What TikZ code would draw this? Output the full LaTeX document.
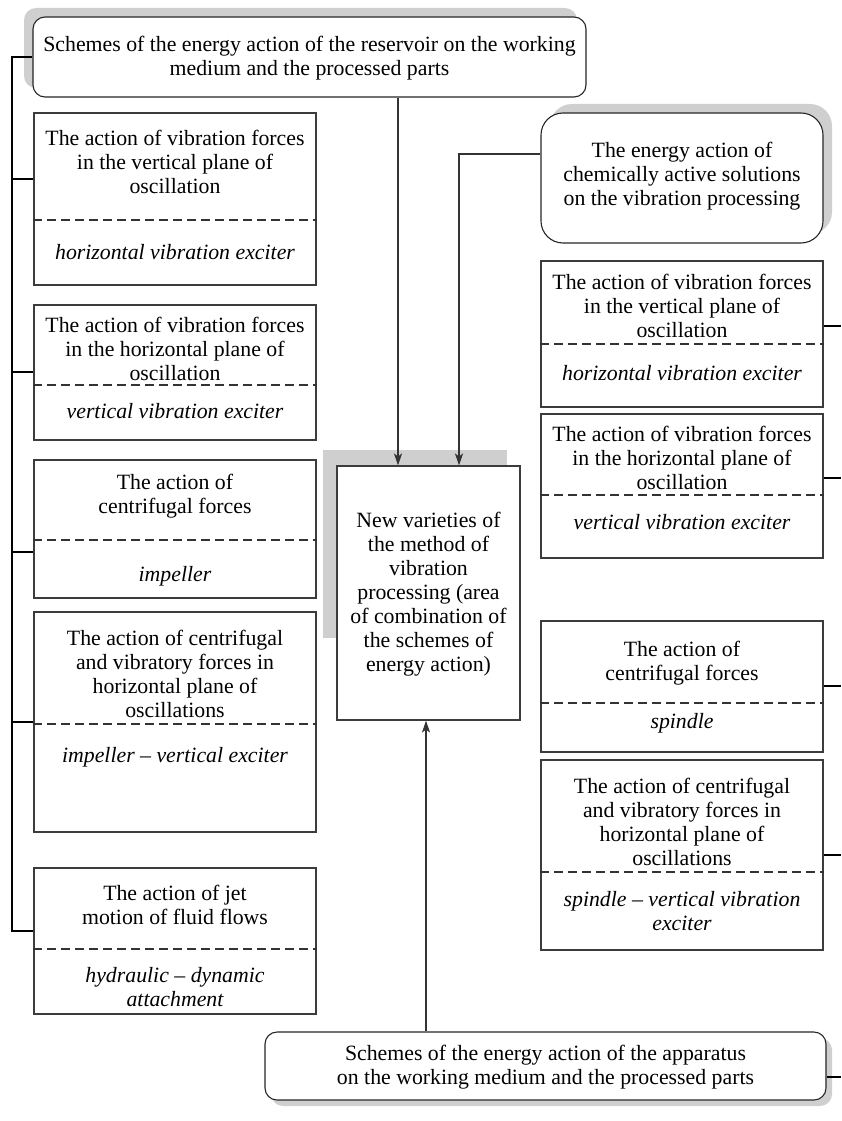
\documentclass[tikz,border=0pt]{standalone}
\usepackage{fontspec}
\setmainfont{Liberation Serif}
\usetikzlibrary{arrows.meta}
\usetikzlibrary{shadows}
\definecolor{shadowgray}{HTML}{CFCFCF}
\definecolor{linegray}{HTML}{3C3C3C}

\begin{document}
\begin{tikzpicture}[x=1pt,y=-1pt,
  schemebox/.style={draw=linegray, line width=1.1pt, minimum width=282pt, inner sep=0pt},
  roundbox/.style={draw=black!85, line width=1.1pt, fill=white, inner sep=0pt},
  head/.style={align=center, font=\fontsize{21.8}{24}\selectfont, inner sep=0pt},
  sub/.style={head, font=\fontsize{21.8}{24}\selectfont\itshape},
  divider/.style={draw=black!80, line width=1.2pt, dash pattern=on 9pt off 5pt},
  link/.style={draw=black, line width=1.2pt},
  feed/.style={link, draw=black!80, -{Stealth[length=12pt,width=8pt,inset=3pt]}}]
\useasboundingbox (0,0) rectangle (841,1121);
% connector ends
\coordinate (a1) at (398,0);
\coordinate (a2) at (459,154);
\coordinate (a3) at (426,0);
\coordinate (l1) at (12,179);
\coordinate (l2) at (12,372);
\coordinate (l3) at (12,552);
\coordinate (l4) at (12,722);
\coordinate (l5) at (12,931);
\coordinate (r1) at (841,326);
\coordinate (r2) at (841,478);
\coordinate (r3) at (841,686);
\coordinate (r4) at (841,855);
\coordinate (r5) at (841,1077);
% dashed line levels
\coordinate (dl1) at (0,220);
\coordinate (dl2) at (0,385);
\coordinate (dl3) at (0,540);
\coordinate (dl4) at (0,724);
\coordinate (dl5) at (0,949);
\coordinate (dr1) at (0,344);
\coordinate (dr2) at (0,495);
\coordinate (dr3) at (0,703);
\coordinate (dr4) at (0,872);

% rounded scheme boxes
\node[roundbox, minimum width=553pt, minimum height=80pt, rounded corners=12pt,
  drop shadow={shadow xshift=-9pt, shadow yshift=9pt, fill=shadowgray, opacity=1}] (T) at (309.5,57) {};
\node[head] (Tt) at (309.5,58) {Schemes of the energy action of the reservoir on the working\\ medium and the processed parts};
\node[roundbox, minimum width=282pt, minimum height=130pt, rounded corners=22pt,
  drop shadow={shadow xshift=9pt, shadow yshift=9pt, fill=shadowgray, opacity=1}] (R0) at (682,178) {};
\node[head] (R0t) at (682,176) {The energy action of\\ chemically active solutions\\ on the vibration processing};
\node[roundbox, minimum width=561pt, minimum height=68pt, rounded corners=12pt,
  drop shadow={shadow xshift=6pt, shadow yshift=-6pt, fill=shadowgray, opacity=1}] (B) at (545.5,1066) {};
\node[head] (Bt) at (545.5,1067) {Schemes of the energy action of the apparatus\\ on the working medium and the processed parts};

% centre box
\node[fill=shadowgray, minimum width=184pt, minimum height=188pt, inner sep=0pt] (Cs) at (415,544) {};
\node[schemebox, fill=white, minimum width=183pt, minimum height=254pt] (C) at (428.5,593) {};
\node[head] (Ct) at (428.5,594) {New varieties of\\ the method of\\ vibration\\ processing (area\\ of combination of\\ the schemes of\\ energy action)};

% left boxes
\node[schemebox, minimum height=172pt] (L1) at (175,199) {};
\node[head] (L1a) at (175,161.5) {The action of vibration forces\\ in the vertical plane of\\ oscillation};
\node[sub] (L1b) at (175,252) {horizontal vibration exciter};
\node[schemebox, minimum height=135pt] (L2) at (175,372.5) {};
\node[head] (L2a) at (175,349) {The action of vibration forces\\ in the horizontal plane of\\ oscillation};
\node[sub] (L2b) at (175,411) {vertical vibration exciter};
\node[schemebox, minimum height=138pt] (L3) at (175,529) {};
\node[head] (L3a) at (175,496) {The action of\\ centrifugal forces};
\node[sub] (L3b) at (175,576) {impeller};
\node[schemebox, minimum height=220pt] (L4) at (175,722) {};
\node[head] (L4a) at (175,674) {The action of centrifugal\\ and vibratory forces in\\ horizontal plane of\\ oscillations};
\node[sub] (L4b) at (175,757) {impeller -- vertical exciter};
\node[schemebox, minimum height=146pt] (L5) at (175,941) {};
\node[head] (L5a) at (175,905) {The action of jet\\ motion of fluid flows};
\node[sub] (L5b) at (175,987) {hydraulic -- dynamic\\ attachment};

% right boxes
\node[schemebox, minimum height=146pt] (R1) at (682,334) {};
\node[head] (R1a) at (682,306) {The action of vibration forces\\ in the vertical plane of\\ oscillation};
\node[sub] (R1b) at (682,373) {horizontal vibration exciter};
\node[schemebox, minimum height=144pt] (R2) at (682,486) {};
\node[head] (R2a) at (682,458) {The action of vibration forces\\ in the horizontal plane of\\ oscillation};
\node[sub] (R2b) at (682,522) {vertical vibration exciter};
\node[schemebox, minimum height=131pt] (R3) at (682,686.5) {};
\node[head] (R3a) at (682,663) {The action of\\ centrifugal forces};
\node[sub] (R3b) at (682,723) {spindle};
\node[schemebox, minimum height=190pt] (R4) at (682,855) {};
\node[head] (R4a) at (682,822) {The action of centrifugal\\ and vibratory forces in\\ horizontal plane of\\ oscillations};
\node[sub] (R4b) at (682,911) {spindle -- vertical vibration\\ exciter};

% dashed dividers
\draw[divider] (L1.west |- dl1) -- (L1.east |- dl1);
\draw[divider] (L2.west |- dl2) -- (L2.east |- dl2);
\draw[divider] (L3.west |- dl3) -- (L3.east |- dl3);
\draw[divider] (L4.west |- dl4) -- (L4.east |- dl4);
\draw[divider] (L5.west |- dl5) -- (L5.east |- dl5);
\draw[divider] (R1.west |- dr1) -- (R1.east |- dr1);
\draw[divider] (R2.west |- dr2) -- (R2.east |- dr2);
\draw[divider] (R3.west |- dr3) -- (R3.east |- dr3);
\draw[divider] (R4.west |- dr4) -- (R4.east |- dr4);

% left bus
\draw[link] (T.west) -| (l5) -- (L5.west |- l5);
\draw[link] (l1) -- (L1.west |- l1);
\draw[link] (l2) -- (L2.west |- l2);
\draw[link] (l3) -- (L3.west |- l3);
\draw[link] (l4) -- (L4.west |- l4);
% right stubs
\draw[link] (R1.east |- r1) -- (r1);
\draw[link] (R2.east |- r2) -- (r2);
\draw[link] (R3.east |- r3) -- (r3);
\draw[link] (R4.east |- r4) -- (r4);
\draw[link] (B.east |- r5) -- (r5);
% arrows into the centre box
\draw[feed] (T.south -| a1) -- (C.north -| a1);
\draw[feed] (R0.west |- a2) -| (C.north -| a2);
\draw[feed] (B.north -| a3) -- (C.south -| a3);
\end{tikzpicture}
\end{document}
